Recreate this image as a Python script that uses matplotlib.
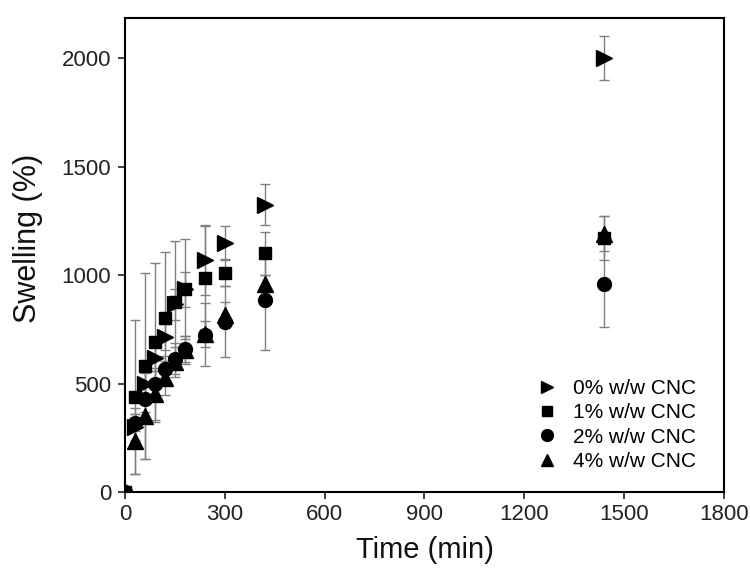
import matplotlib
matplotlib.use("Agg")
import matplotlib.pyplot as plt

plt.rcParams['font.family'] = ['Liberation Sans', 'DejaVu Sans']

time = [0, 30, 60, 90, 120, 150, 180, 240, 300, 420, 1440]

labels = ["0% w/w CNC", "1% w/w CNC", "2% w/w CNC", "4% w/w CNC"]

s0 = [0, 300, 500, 620, 715, 865, 935, 1070, 1150, 1325, 2000]
e0 = [0, 60, 60, 60, 60, 70, 80, 160, 75, 95, 100]

s1 = [0, 440, 580, 690, 800, 875, 935, 985, 1010, 1100, 1170]
e1 = [0, 355, 430, 365, 305, 280, 230, 240, 60, 100, 100]

s2 = [0, 320, 430, 500, 565, 615, 660, 725, 785, 885, 960]
e2 = [0, 40, 60, 60, 60, 70, 60, 145, 163, 230, 200]

s3 = [0, 235, 350, 450, 525, 600, 655, 730, 815, 960, 1190]
e3 = [0, 150, 200, 120, 80, 70, 65, 60, 60, 40, 80]

series = [(s0, e0, '>'), (s1, e1, 's'), (s2, e2, 'o'), (s3, e3, '^')]

fig = plt.figure(figsize=(7.5, 5.77), dpi=100)
ax = fig.add_axes([0.1667, 0.1473, 0.7986, 0.8215])

sizes = {'>': 11, 's': 9, 'o': 10, '^': 11}
for (vals, errs, m), lab in zip(series, labels):
    ax.errorbar(time, vals, yerr=errs, fmt=m, color='black', ms=sizes[m],
                ecolor='#808080', elinewidth=1.0, capsize=3.5, capthick=1.0,
                label=lab, zorder=3)

ax.set_xlim(0, 1800)
ax.set_ylim(0, 2185)
ax.set_xticks([0, 300, 600, 900, 1200, 1500, 1800])
ax.set_yticks([0, 500, 1000, 1500, 2000])
ax.tick_params(direction='out', length=5, width=1.2, labelsize=16, colors='#222222')
ax.tick_params(axis='y', pad=5)
for sp in ax.spines.values():
    sp.set_linewidth(1.5)

ax.set_xlabel("Time (min)", fontsize=21, color='#111111')
ax.set_ylabel("Swelling (%)", fontsize=22, color='#111111')
ax.xaxis.set_label_coords(0.5, -0.093)
ax.yaxis.set_label_coords(-0.137, 0.536)

handles, labs = ax.get_legend_handles_labels()
handles = [h[0] for h in handles]
ax.legend(handles, labs, loc='lower right', frameon=False, fontsize=15,
          handletextpad=0.75, labelspacing=0.26, bbox_to_anchor=(0.953, 0.044),
          borderaxespad=0, borderpad=0, handlelength=1.0, markerscale=0.85)

fig.savefig("out.png", dpi=100)
